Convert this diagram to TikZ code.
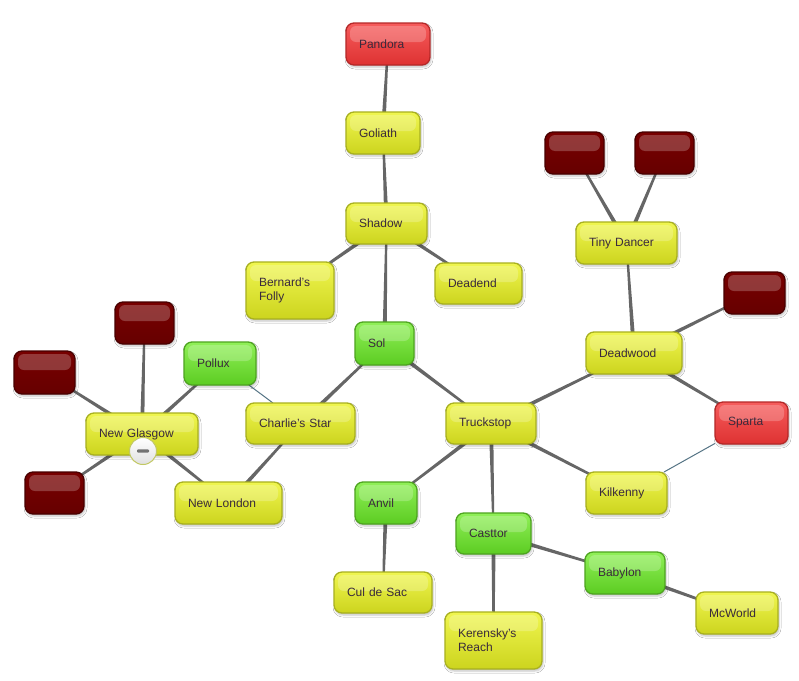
\documentclass[tikz,border=0pt]{standalone}
\usepackage{fontspec}
\setmainfont{Liberation Sans}
\usetikzlibrary{calc,backgrounds,shadows.blur,fadings}
\definecolor{edgec}{HTML}{666666}
\definecolor{linkc}{HTML}{557485}
\definecolor{txtc}{HTML}{3A2A3C}
\definecolor{ytop}{HTML}{F0F650}
\definecolor{ybot}{HTML}{CCD41E}
\definecolor{yline}{HTML}{A8B020}
\definecolor{gtop}{HTML}{90F058}
\definecolor{gbot}{HTML}{5CCC22}
\definecolor{gline}{HTML}{4EA420}
\definecolor{rtop}{HTML}{F65C5C}
\definecolor{rbot}{HTML}{DE3232}
\definecolor{rline}{HTML}{B42828}
\definecolor{dtop}{HTML}{780000}
\definecolor{dbot}{HTML}{660000}
\definecolor{dline}{HTML}{480000}
\newcommand\taper[2]{\fill[edgec] let \p1=(#1.center), \p2=(#2.center), \n1={atan2(\y2-\y1,\x2-\x1)} in ($(\p1)+(\n1+90:2.2pt)$) -- ($(\p2)+(\n1+90:0.9pt)$) -- ($(\p2)+(\n1-90:0.9pt)$) -- ($(\p1)+(\n1-90:2.2pt)$) -- cycle;}
\tikzset{
  box/.style={rectangle, rounded corners=8pt, line width=1.3pt, anchor=north west,
    inner xsep=13pt, inner ysep=4pt, outer sep=0pt, align=left, text=txtc,
    font=\fontsize{12}{14}\selectfont,
    blur shadow={shadow xshift=1pt, shadow yshift=-2pt, shadow blur steps=4, shadow opacity=25, shadow blur radius=2pt},
    path picture={\fill[white,opacity=.22,rounded corners=6pt] ([xshift=4pt,yshift=-3pt]path picture bounding box.north west) rectangle ([xshift=-4pt,yshift=-19pt]path picture bounding box.north east);}},
  ybox/.style={box, draw=yline, top color=ytop, bottom color=ybot},
  gbox/.style={box, draw=gline, top color=gtop, bottom color=gbot},
  rbox/.style={box, draw=rline, top color=rtop, bottom color=rbot},
  dbox/.style={box, draw=dline, top color=dtop, bottom color=dbot},
  link/.style={draw=linkc, line width=1pt},
}
\begin{document}
\begin{tikzpicture}[x=1pt,y=-1pt]
\useasboundingbox (0,0) rectangle (799,680);
% nodes
\node[rbox, minimum width=84, text width=58, minimum height=42] (pandora) at (346,23) {Pandora};
\node[ybox, minimum width=74, text width=48, minimum height=42] (goliath) at (346,112) {Goliath};
\node[ybox, minimum width=81, text width=55, minimum height=41] (shadow) at (346,203) {Shadow};
\node[ybox, minimum width=88, text width=62, minimum height=57] (bernard) at (246,262) {Bernard's\\Folly};
\node[ybox, minimum width=87, text width=61, minimum height=41] (deadend) at (435,263) {Deadend};
\node[gbox, minimum width=59, text width=33, minimum height=43] (sol) at (355,322) {Sol};
\node[gbox, minimum width=72, text width=46, minimum height=43] (pollux) at (184,342) {Pollux};
\node[ybox, minimum width=109, text width=83, minimum height=41] (charlie) at (246,403) {Charlie's Star};
\node[ybox, minimum width=112, text width=86, minimum height=42] (nglasgow) at (86,413) {New Glasgow};
\node[ybox, minimum width=107, text width=81, minimum height=42] (nlondon) at (175,482) {New London};
\node[dbox, minimum width=59, text width=33, minimum height=42] (drtop) at (115,302) {};
\node[dbox, minimum width=61, text width=35, minimum height=43] (drleft) at (14,351) {};
\node[dbox, minimum width=59, text width=33, minimum height=42] (drbl) at (25,472) {};
\node[ybox, minimum width=90, text width=64, minimum height=41] (truckstop) at (446,403) {Truckstop};
\node[gbox, minimum width=62, text width=36, minimum height=42] (anvil) at (355,482) {Anvil};
\node[ybox, minimum width=98, text width=72, minimum height=41] (culdesac) at (334,572) {Cul de Sac};
\node[gbox, minimum width=75, text width=49, minimum height=41] (casttor) at (456,513) {Casttor};
\node[ybox, minimum width=97, text width=71, minimum height=57] (kerensky) at (445,612) {Kerensky's\\Reach};
\node[gbox, minimum width=80, text width=54, minimum height=42] (babylon) at (585,552) {Babylon};
\node[ybox, minimum width=82, text width=56, minimum height=42] (mcworld) at (696,592) {McWorld};
\node[ybox, minimum width=81, text width=55, minimum height=42] (kilkenny) at (586,472) {Kilkenny};
\node[rbox, minimum width=73, text width=47, minimum height=42] (sparta) at (715,402) {Sparta};
\node[ybox, minimum width=96, text width=70, minimum height=42] (deadwood) at (586,332) {Deadwood};
\node[dbox, minimum width=61, text width=35, minimum height=42] (drright) at (724,272) {};
\node[ybox, minimum width=101, text width=75, minimum height=42] (tiny) at (576,222) {Tiny Dancer};
\node[dbox, minimum width=59, text width=33, minimum height=42] (drtdl) at (545,132) {};
\node[dbox, minimum width=59, text width=33, minimum height=42] (drtdr) at (635,132) {};
% collapse icon
\node[circle, minimum size=27pt, inner sep=0pt, draw=yline!70!white, line width=1pt,
  top color=white, bottom color=black!12] (minus) at (143,451) {};
\fill[black!55, rounded corners=1pt] ($(minus.center)+(-6,-1.6)$) rectangle ($(minus.center)+(6,1.6)$);
% connectors
\begin{pgfonlayer}{background}
\fill[white] (0,0) rectangle (799,680);
\taper{goliath}{pandora}
\taper{shadow}{goliath}
\taper{shadow}{bernard}
\taper{shadow}{deadend}
\taper{sol}{shadow}
\taper{charlie}{sol}
\taper{nlondon}{charlie}
\taper{nglasgow}{nlondon}
\taper{nglasgow}{pollux}
\taper{nglasgow}{drtop}
\taper{nglasgow}{drleft}
\taper{nglasgow}{drbl}
\taper{sol}{truckstop}
\taper{truckstop}{anvil}
\taper{anvil}{culdesac}
\taper{truckstop}{casttor}
\taper{casttor}{kerensky}
\taper{casttor}{babylon}
\taper{babylon}{mcworld}
\taper{truckstop}{deadwood}
\taper{truckstop}{kilkenny}
\taper{deadwood}{sparta}
\taper{deadwood}{drright}
\taper{deadwood}{tiny}
\taper{tiny}{drtdl}
\taper{tiny}{drtdr}
\draw[link] (pollux) -- (charlie);
\draw[link] (sparta) -- (kilkenny);
\end{pgfonlayer}
\end{tikzpicture}
\end{document}
